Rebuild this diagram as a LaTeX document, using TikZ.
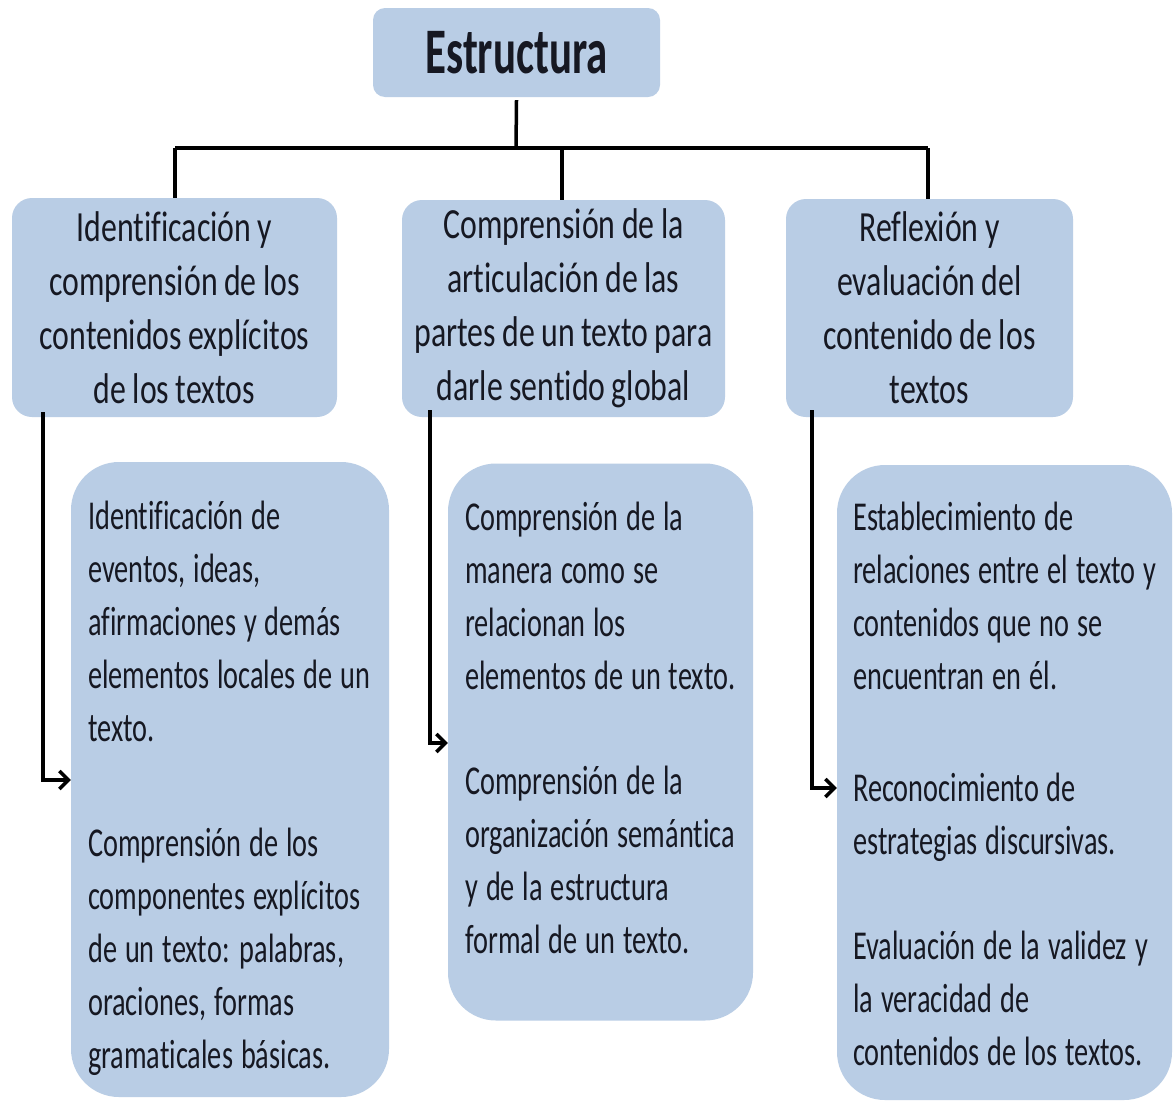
\documentclass[tikz,border=0pt]{standalone}
\usepackage{fontspec}
\setmainfont{Carlito}[Ligatures=NoCommon]
\newfontfamily\titlefont{Carlito}[FakeStretch=0.66,Ligatures=NoCommon]
\newfontfamily\midfont{Carlito}[FakeStretch=0.74,WordSpace=0.9,Ligatures=NoCommon]
\newfontfamily\lowfont{Carlito}[FakeStretch=0.69,WordSpace=1.25,Ligatures=NoCommon]
\usetikzlibrary{arrows.meta}
\definecolor{boxblue}{RGB}{185,205,229}
\definecolor{inkdark}{RGB}{22,24,34}
\tikzset{
  titlebox/.style={fill=boxblue, rounded corners=12pt, inner sep=0pt,
    minimum width=287pt, minimum height=89pt, text=inkdark,
    font=\titlefont\fontsize{65}{70}\selectfont\bfseries},
  midbox/.style={fill=boxblue, rounded corners=20pt, inner sep=0pt,
    align=center, text=inkdark,
    font=\midfont\fontsize{43}{54}\selectfont},
  lowbox/.style={fill=boxblue, rounded corners=48pt, inner sep=0pt},
  lowtext/.style={inner sep=0pt, anchor=north west, align=left, text=inkdark,
    font=\lowfont\fontsize{41}{53}\selectfont},
  link/.style={draw=black, line width=3.5pt},
  feed/.style={draw=black, line width=3.5pt, -{Straight Barb[length=9pt,width=18pt,line width=3.5pt]}}
}
\begin{document}
\begin{tikzpicture}[x=1pt,y=-1pt]
\useasboundingbox (0,0) rectangle (1174,1106);
\fill[white] (0,0) rectangle (1174,1106);

% top
\node[titlebox] (top) at (516.5,52.5) {Estructura};

% second level
\node[midbox, minimum width=325pt, minimum height=219pt] (m1) at (174.5,307.5)
  {Identificación y\\comprensión de los\\contenidos explícitos\\de los textos};
\node[midbox, minimum width=323pt, minimum height=217pt] (m2) at (563.5,308.5)
  {Comprensión de la\\articulación de las\\partes de un texto para\\darle sentido global};
\node[midbox, minimum width=287pt, minimum height=218pt] (m3) at (929.5,308)
  {Reflexión y\\evaluación del\\contenido de los\\textos};

% third level boxes
\node[lowbox, minimum width=318pt, minimum height=635pt] (l1) at (230,779.5) {};
\node[lowbox, minimum width=305pt, minimum height=557pt] (l2) at (600.5,742) {};
\node[lowbox, minimum width=335pt, minimum height=635pt] (l3) at (1004.5,782.5) {};

% third level texts
\node[lowtext] (t1) at (88,501)
  {Identificación de\\eventos, ideas,\\afirmaciones y demás\\elementos locales de un\\texto.\\[62pt]Comprensión de los\\componentes explícitos\\de un texto: palabras,\\oraciones, formas\\gramaticales básicas.};
\node[lowtext] (t2) at (465,502)
  {Comprensión de la\\manera como se\\relacionan los\\elementos de un texto.\\[52pt]Comprensión de la\\organización semántica\\y de la estructura\\formal de un texto.};
\node[lowtext] (t3) at (853,502)
  {Establecimiento de\\relaciones entre el texto y\\contenidos que no se\\encuentran en él.\\[59pt]Reconocimiento de\\estrategias discursivas.\\[52pt]Evaluación de la validez y\\la veracidad de\\contenidos de los textos.};

% tree connectors
\coordinate (hub) at (516,148);
\coordinate (j1) at (175,148);
\coordinate (j2) at (562,148);
\coordinate (j3) at (928,148);
\draw[link] (top.south) ++(0,3) -- (hub);
\draw[link] (j1) -- (j3);
\draw[link] (j1) -- (j1 |- m1.north);
\draw[link] (j2) -- (j2 |- m2.north);
\draw[link] (j3) -- (j3 |- m3.north);

% feeds
\coordinate (f1) at (43,780);
\coordinate (f2) at (430,743);
\coordinate (f3) at (812,788);
\draw[feed] ([yshift=5pt]m1.south -| f1) -- (f1) -- (l1.west |- f1);
\draw[feed] ([yshift=7pt]m2.south -| f2) -- (f2) -- (l2.west |- f2);
\draw[feed] ([yshift=7pt]m3.south -| f3) -- (f3) -- (l3.west |- f3);
\end{tikzpicture}
\end{document}
